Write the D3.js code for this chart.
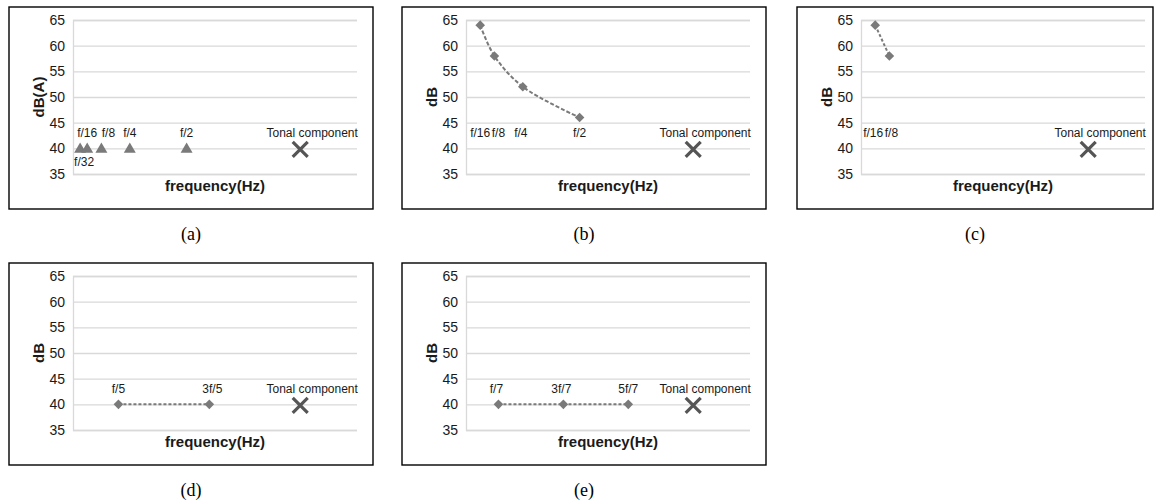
<!DOCTYPE html>
<html>
<head>
<meta charset="utf-8">
<script src="https://cdn.jsdelivr.net/npm/d3@7"></script>
<style>
  body { margin: 0; background: #fff; }
</style>
</head>
<body>
<svg width="1155" height="504"></svg>
<script>
//// HARMONIC / SUB-HARMONIC LEVEL PANELS ////

// Shared axis values
var yTicks = [35, 40, 45, 50, 55, 60, 65];
var yDomain = [35, 65];
var xDomain = [0, 1.25];   // frequency as a fraction of the tonal frequency f

// Tonal component (same in every panel)
var tonalLabel = "Tonal component";
var tonalFreq = 1;
var tonalDb = 40;

// Panel (a): sub-harmonics, dB(A)
var aLabels = ["f/32", "f/16", "f/8", "f/4", "f/2"];
var aFreq = [1/32, 1/16, 1/8, 1/4, 1/2];
var aDb = [40, 40, 40, 40, 40];

// Panel (b)
var bLabels = ["f/16", "f/8", "f/4", "f/2"];
var bFreq = [1/16, 1/8, 1/4, 1/2];
var bDb = [64, 58, 52, 46];

// Panel (c)
var cLabels = ["f/16", "f/8"];
var cFreq = [1/16, 1/8];
var cDb = [64, 58];

// Panel (d)
var dLabels = ["f/5", "3f/5"];
var dFreq = [1/5, 3/5];
var dDb = [40, 40];

// Panel (e)
var eLabels = ["f/7", "3f/7", "5f/7"];
var eFreq = [1/7, 3/7, 5/7];
var eDb = [40, 40, 40];

// Layout for each panel (box corner, box width, marker, line, label nudges)
var panels = [
  { cap: "(a)", x: 9,   y: 7,   w: 364, yTitle: "dB(A)", labels: aLabels, freq: aFreq, db: aDb,
    marker: "tri", line: "none", nudge: { "f/32": [4, 29], "f/8": [7, 0] } },
  { cap: "(b)", x: 402, y: 7,   w: 364, yTitle: "dB", labels: bLabels, freq: bFreq, db: bDb,
    marker: "dia", line: "smooth", fixedLabelY: true, nudge: { "f/8": [4, 0], "f/4": [-2, 0] } },
  { cap: "(c)", x: 797, y: 7,   w: 356, yTitle: "dB", labels: cLabels, freq: cFreq, db: cDb,
    marker: "dia", line: "straight", fixedLabelY: true, nudge: { "f/16": [-2, 0], "f/8": [2, 0] } },
  { cap: "(d)", x: 9,   y: 263, w: 364, yTitle: "dB", labels: dLabels, freq: dFreq, db: dDb,
    marker: "dia", line: "straight", nudge: { "3f/5": [3, 0] } },
  { cap: "(e)", x: 402, y: 263, w: 364, yTitle: "dB", labels: eLabels, freq: eFreq, db: eDb,
    marker: "dia", line: "straight", nudge: { "f/7": [-2, 0], "3f/7": [-2, 0] } }
];

var svg = d3.select("svg");
var sans = "Arial, 'Liberation Sans', sans-serif";
var boxH = 202;
var plotW = 284, plotH = 154;
var gridCol = "#d9d9d9", markCol = "#7a7a7a", xCol = "#555555", textCol = "#1a1a1a";

panels.forEach(function(p) {
  var g = svg.append("g").style("font-family", sans);
  var left = p.x + 64, top = p.y + 13;

  var x = d3.scaleLinear().domain(xDomain).range([left, left + plotW]);
  var y = d3.scaleLinear().domain(yDomain).range([top + plotH, top]);

  // outer frame
  g.append("rect")
    .attr("x", p.x).attr("y", p.y)
    .attr("width", p.w).attr("height", boxH)
    .attr("fill", "none").attr("stroke", "#000").attr("stroke-width", 1.4);

  // gridlines + tick labels via axis
  var yAxis = d3.axisLeft(y).tickValues(yTicks).tickSize(-plotW).tickPadding(8);
  var ya = g.append("g").attr("transform", "translate(" + left + ",0)").call(yAxis);
  ya.select(".domain").attr("stroke", gridCol).attr("stroke-width", 1.3);
  ya.selectAll(".tick line").attr("stroke", gridCol).attr("stroke-width", 1.3);
  ya.selectAll(".tick text")
    .style("font-family", sans).style("font-size", "14px")
    .attr("fill", textCol);

  // axis titles
  g.append("text")
    .attr("transform", "translate(" + (p.x + 35) + "," + (top + plotH / 2) + ") rotate(-90)")
    .attr("text-anchor", "middle")
    .style("font-size", "15px").style("font-weight", "bold").attr("fill", textCol)
    .text(p.yTitle);

  g.append("text")
    .attr("x", left + plotW / 2).attr("y", top + plotH + 17)
    .attr("text-anchor", "middle")
    .style("font-size", "15px").style("font-weight", "bold").attr("fill", textCol)
    .text("frequency(Hz)");

  var pts = p.freq.map(function(f, i) { return { f: f, v: p.db[i], label: p.labels[i] }; });

  // connecting line
  if (p.line != "none") {
    var lineGen = d3.line()
      .x(function(d) { return x(d.f); })
      .y(function(d) { return y(d.v); })
      .curve(p.line == "smooth" ? d3.curveCatmullRom.alpha(0.5) : d3.curveLinear);
    g.append("path")
      .datum(pts)
      .attr("d", lineGen)
      .attr("fill", "none")
      .attr("stroke", markCol)
      .attr("stroke-width", 2)
      .attr("stroke-dasharray", p.line == "smooth" ? "4,2" : "3,2");
  }

  // markers: triangles in (a), rotated squares elsewhere
  g.selectAll("path.mark")
    .data(pts)
    .enter().append("path")
    .attr("class", "mark")
    .attr("transform", function(d) {
      if (p.marker == "tri") return "translate(" + x(d.f) + "," + (y(d.v) + 1) + ")";
      return "translate(" + x(d.f) + "," + y(d.v) + ") rotate(45)";
    })
    .attr("d", d3.symbol().type(p.marker == "tri" ? d3.symbolTriangle : d3.symbolSquare)
      .size(p.marker == "tri" ? 62 : 46))
    .attr("fill", markCol);

  // data labels
  g.selectAll("text.lab")
    .data(pts)
    .enter().append("text")
    .attr("class", "lab")
    .attr("x", function(d) { return x(d.f) + ((p.nudge[d.label] || [0, 0])[0]); })
    .attr("y", function(d) {
      var base = p.fixedLabelY ? y(43) : y(d.v) - 15;
      return base + 4 + ((p.nudge[d.label] || [0, 0])[1]);
    })
    .attr("text-anchor", "middle")
    .style("font-size", "12px").attr("fill", textCol)
    .text(function(d) { return d.label; });

  // tonal component cross
  var tx = x(tonalFreq), ty = y(tonalDb) + 1, r = 7.5;
  g.append("path")
    .attr("d", "M" + (tx - r) + "," + (ty - r) + "L" + (tx + r) + "," + (ty + r) +
               "M" + (tx - r) + "," + (ty + r) + "L" + (tx + r) + "," + (ty - r))
    .attr("stroke", xCol).attr("stroke-width", 3.2).attr("fill", "none");

  g.append("text")
    .attr("x", tx + 12).attr("y", y(tonalDb) - 11)
    .attr("text-anchor", "middle")
    .style("font-size", "12px").attr("fill", textCol)
    .text(tonalLabel);

  // caption below the frame
  g.append("text")
    .attr("x", p.x + p.w / 2).attr("y", p.y + boxH + 31)
    .attr("text-anchor", "middle")
    .style("font-family", "'Liberation Serif', 'Times New Roman', serif")
    .style("font-size", "18px").attr("fill", "#000")
    .text(p.cap);
});
</script>
</body>
</html>
